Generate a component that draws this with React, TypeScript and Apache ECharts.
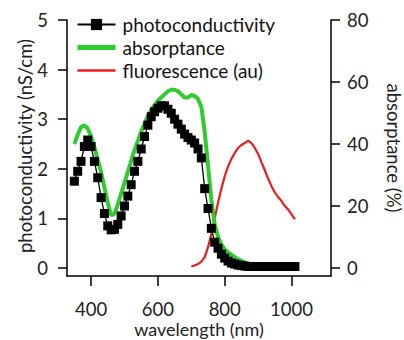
import React, { useEffect, useRef } from "react";
import * as echarts from "echarts";

const pcWavelength = [350, 360, 370, 380, 390, 400, 410, 420, 430, 440, 450, 460, 470, 480, 490, 500, 510, 520, 530, 540, 550, 560, 570, 580, 590, 600, 610, 620, 630, 640, 650, 660, 670, 680, 690, 700, 710, 720, 730, 740, 750, 760, 770, 780, 790, 800, 810, 820, 830, 840, 850, 860, 870, 880, 890, 900, 910, 920, 930, 940, 950, 960, 970, 980, 990, 1000, 1010];
const photoconductivity = [1.75, 1.95, 2.15, 2.45, 2.58, 2.45, 2.15, 1.82, 1.42, 1.1, 0.85, 0.77, 0.78, 0.88, 1.05, 1.25, 1.45, 1.68, 1.95, 2.15, 2.4, 2.65, 2.88, 3.05, 3.15, 3.22, 3.27, 3.27, 3.2, 3.12, 3.0, 2.9, 2.8, 2.7, 2.63, 2.58, 2.52, 2.4, 2.22, 1.6, 1.2, 0.8, 0.52, 0.4, 0.28, 0.2, 0.14, 0.1, 0.08, 0.06, 0.05, 0.04, 0.03, 0.03, 0.03, 0.03, 0.03, 0.03, 0.03, 0.03, 0.03, 0.03, 0.03, 0.03, 0.03, 0.03, 0.03];

const absWavelength = [350, 360, 370, 380, 390, 400, 410, 420, 430, 440, 450, 460, 470, 480, 490, 500, 510, 520, 530, 540, 550, 560, 570, 580, 590, 600, 610, 620, 630, 640, 650, 660, 670, 680, 690, 700, 710, 720, 730, 740, 750, 760, 770, 780, 790, 800, 810, 820, 830, 840, 850, 860, 870, 880, 890, 900, 910, 920, 930, 940, 950, 960, 970, 980, 990];
const absorptance = [40, 43, 45.5, 46, 45, 42.5, 39, 35, 31, 26, 21, 17, 17.5, 20.5, 24, 27.5, 31, 34.5, 38, 41, 44, 46.5, 49, 51, 52.5, 54, 55, 56, 57, 57.5, 57.5, 57, 56, 55, 55, 55.8, 55.5, 54.5, 52, 44, 33, 22, 14, 10, 7.5, 6, 5, 4.3, 3.5, 2.8, 2.3, 1.8, 1.3, 1.0, 0.8, 0.6, 0.5, 0.4, 0.3, 0.3, 0.3, null, null, 0.4, 0.4];

const flWavelength = [700, 710, 720, 730, 740, 750, 760, 770, 780, 790, 800, 810, 820, 830, 840, 850, 860, 870, 880, 890, 900, 910, 920, 930, 940, 950, 960, 970, 980, 990, 1000, 1010];
const fluorescence = [0.03, 0.05, 0.08, 0.13, 0.22, 0.42, 0.68, 1.0, 1.32, 1.6, 1.85, 2.05, 2.2, 2.32, 2.42, 2.48, 2.52, 2.57, 2.52, 2.42, 2.3, 2.13, 1.97, 1.8, 1.65, 1.52, 1.43, 1.35, 1.25, 1.18, 1.08, 0.98];

const xTicks = [400, 600, 800, 1000];
const leftTicks = [0, 1, 2, 3, 4, 5];
const rightTicks = [0, 20, 40, 60, 80];

const FONT = "Lato";
const FS = 18.5;

export default function App() {
  const ref = useRef<HTMLDivElement>(null);
  useEffect(() => {
    if (!ref.current) return;
    const chart = echarts.init(ref.current, undefined, { renderer: "svg" });
    const axisLine = { lineStyle: { color: "#000", width: 1.5 } };
    const label = { fontFamily: FONT, fontSize: FS, color: "#222", lineHeight: 16 };
    const hiddenSymbol = { color: "rgba(0,0,0,0)", opacity: 0, borderWidth: 0 };
    chart.setOption({
      animation: false,
      grid: { left: 67, right: 73, top: 20, bottom: 64, containLabel: false, outerBoundsMode: "none" },
      legend: {
        orient: "vertical",
        left: 75,
        top: 15,
        padding: 0,
        itemWidth: 38,
        itemHeight: 14,
        itemGap: 4,
        textStyle: { fontFamily: FONT, fontSize: 19, color: "#111", padding: [0, 0, 0, 2] },
        data: [
          { name: "photoconductivity", lineStyle: { width: 2 } },
          { name: "absorptance", itemStyle: hiddenSymbol, lineStyle: { width: 5 } },
          { name: "fluorescence (au)", itemStyle: hiddenSymbol, lineStyle: { width: 2.5 } },
        ],
      },
      graphic: [
        {
          type: "text",
          x: 25,
          y: 146,
          rotation: Math.PI / 2,
          silent: true,
          style: {
            text: "photoconductivity (nS/cm)",
            fontFamily: FONT,
            fontSize: FS,
            fill: "#222",
            align: "center",
            verticalAlign: "middle",
          },
        },
      ],
      xAxis: {
        type: "value",
        min: 328,
        max: 1118,
        name: "wavelength (nm)",
        nameLocation: "middle",
        nameGap: 44,
        nameMoveOverlap: false,
        nameTextStyle: { fontFamily: FONT, fontSize: 18, color: "#222", lineHeight: 18 },
        axisLine: { show: true, onZero: false, ...axisLine },
        axisTick: { show: true, length: 10, customValues: xTicks, lineStyle: { color: "#000", width: 1.5 } },
        axisLabel: { ...label, margin: 25, customValues: xTicks, formatter: (v: number) => String(v) },
        splitLine: { show: false },
      },
      yAxis: [
        {
          type: "value",
          position: "left",
          min: -0.161,
          max: 5,
          axisLine: { show: true, onZero: false, ...axisLine },
          axisTick: { show: true, length: 9, customValues: leftTicks, lineStyle: { color: "#000", width: 1.5 } },
          axisLabel: { ...label, margin: 19, customValues: leftTicks },
          splitLine: { show: false },
        },
        {
          type: "value",
          position: "right",
          min: -2.576,
          max: 80,
          name: "absorptance (%)",
          nameLocation: "middle",
          nameRotate: -90,
          nameGap: 53,
          nameMoveOverlap: false,
          nameTextStyle: { fontFamily: FONT, fontSize: FS, color: "#222", lineHeight: 19 },
          axisLine: { show: true, onZero: false, ...axisLine },
          axisTick: { show: true, length: 9, customValues: rightTicks, lineStyle: { color: "#000", width: 1.5 } },
          axisLabel: { ...label, margin: 16, customValues: rightTicks },
          splitLine: { show: false },
        },
      ],
      series: [
        {
          name: "fluorescence (au)",
          type: "line",
          yAxisIndex: 0,
          showSymbol: false,
          symbol: "none",
          data: flWavelength.map((w, i) => [w, fluorescence[i]]),
          lineStyle: { color: "#ee1c1c", width: 2.2 },
          itemStyle: { color: "#ee1c1c" },
        },
        {
          name: "photoconductivity",
          type: "line",
          yAxisIndex: 0,
          symbol: "rect",
          symbolSize: 9,
          data: pcWavelength.map((w, i) => [w, photoconductivity[i]]),
          lineStyle: { color: "#000", width: 1.3 },
          itemStyle: { color: "#000" },
        },
        {
          name: "absorptance",
          type: "line",
          yAxisIndex: 1,
          showSymbol: false,
          symbol: "none",
          connectNulls: false,
          data: absWavelength.map((w, i) => [w, absorptance[i]]),
          lineStyle: { color: "#2fcc2f", width: 4 },
          itemStyle: { color: "#2fcc2f" },
        },
      ],
    });
    return () => chart.dispose();
  }, []);
  return <div ref={ref} style={{ width: 404, height: 340, position: "absolute", left: 0, top: 0 }} />;
}
